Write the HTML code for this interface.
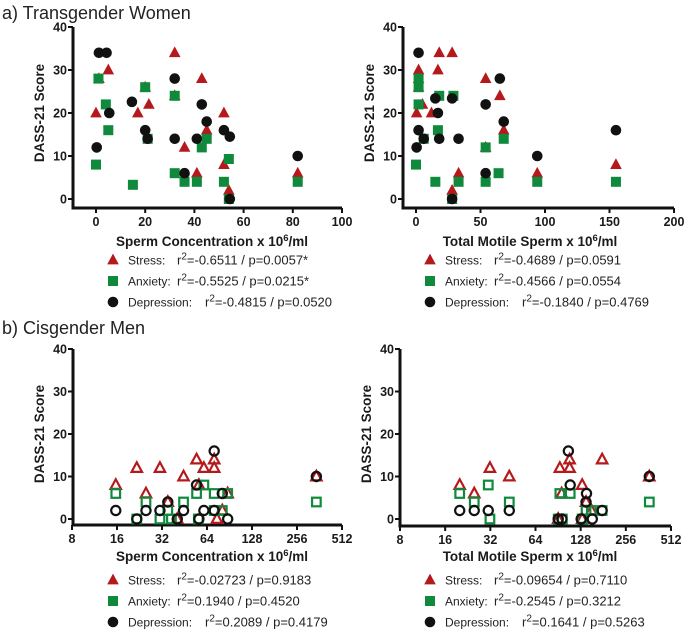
<!DOCTYPE html>
<html><head><meta charset="utf-8"><style>
html,body{margin:0;padding:0;background:#fff;}
svg{display:block;font-family:"Liberation Sans",Arial,sans-serif;}
.tick{font-size:12.5px;font-weight:bold;fill:#1a1a1a;}
.ttl{font-size:13.5px;font-weight:bold;fill:#1a1a1a;}
.leg{font-size:12px;fill:#222;}
.legv{font-size:13px;fill:#222;}
.head{font-size:18px;fill:#222;}
</style></head><body>
<svg id="chart" width="685" height="631" viewBox="0 0 685 631">
<text class="head" x="2" y="19">a) Transgender Women</text>
<text class="head" x="2" y="334">b) Cisgender Men</text>
</svg>
<script>
// Panel A-left: Sperm concentration (Transgender women)
const aL_stressX=[1.2,5,0,32,32,20,21.5,17,43,36,41,45,52,52,54,82];
const aL_stressY=[28,30,20,34,24,26,22,20,28,12,6,16,20,8,2,6];
const aL_anxX=[1,0,4,5,15,20,21,32,32,36,41,43,45,52,54,54,82];
const aL_anxY=[28,8,22,16,3.3,26,14,24,6,4,4,12,14,4,9.3,0,4];
const aL_depX=[1.2,4.3,5.4,0.3,14.6,20,21,32,32,36,41,43,45,52,54.4,54.4,82];
const aL_depY=[34,34,20,12,22.6,16,14,28,14,6,14,22,18,16,14.5,0,10];
// Panel A-right: Total motile sperm
const aR_stressX=[0.5,2,2,2,5,12,17,18,28,33,28,54,54,65,68,94,155];
const aR_stressY=[20,30,28,26,22,20,30,34,34,6,2,28,12,24,16,6,8];
const aR_anxX=[2,2,2,0,6,17,15,18,29,28,33,54,54,64,68,94,155];
const aR_anxY=[28,26,22,8,14,16,4,24,24,0,4,12,4,6,14,4,4];
const aR_depX=[2,2,0.5,6,15,17,18,28,33,28,54,54,65,68,94,155];
const aR_depY=[34,16,12,14,23.4,20,14,23.4,14,0,22,6,28,18,10,16];
// Panel B-left: Sperm concentration (Cisgender men), log2 axis
const bL_stressX=[15.7,21.7,25,31,35,44.6,40.5,54.5,56.5,61,71.5,71.5,74.6,81,88,345];
const bL_stressY=[8,12,6,12,4,10,0,14,8,12,14,12,0,2,6,10];
const bL_anxX=[15.7,21.7,25,31,35,44.6,54.5,61,56,71.5,71.5,81,88,345,37];
const bL_anxY=[6,0,4,0,2,4,6,8,0,6,2,2,6,4,0];
const bL_depX=[15.7,21.7,25,31,35,40.5,44.6,54.5,56.5,61,71.5,71.5,81,88,345];
const bL_depY=[2,0,2,2,4,0,2,8,0,2,16,2,6,0,10];
// Panel B-right: Total motile sperm, log2 axis
const bR_stressX=[20,25,31.8,42.8,93,95.6,108,108,131,139,151,178,90.7,131,367];
const bR_stressY=[8,6,12,10,12,6,14,12,8,4,2,14,0,0,10];
const bR_anxX=[20,25,31,31.8,42.8,93,109,90.7,96.6,131,139,151,178,367];
const bR_anxY=[6,4,8,0,4,6,6,0,0,0,2,2,2,4];
const bR_depX=[20,25,31,42.8,90.7,96,106,109,140,139,129,153,178,367];
const bR_depY=[2,2,2,2,0,0,16,8,6,4,0,0,2,10];
// Ticks & legends
const yTicks=[0,10,20,30,40];
const xTicksA=[0,20,40,60,80,100];
const xTicksATMS=[0,50,100,150,200];
const xTicksLog=[8,16,32,64,128,256,512];
const legA_L=["r\u00b2=-0.6511 / p=0.0057*","r\u00b2=-0.5525 / p=0.0215*","r\u00b2=-0.4815 / p=0.0520"];
const legA_R=["r\u00b2=-0.4689 / p=0.0591","r\u00b2=-0.4566 / p=0.0554","r\u00b2=-0.1840 / p=0.4769"];
const legB_L=["r\u00b2=-0.02723 / p=0.9183","r\u00b2=0.1940 / p=0.4520","r\u00b2=0.2089 / p=0.4179"];
const legB_R=["r\u00b2=-0.09654 / p=0.7110","r\u00b2=-0.2545 / p=0.3212","r\u00b2=0.1641 / p=0.5263"];
const seriesNames=["Stress:","Anxiety:","Depression:"];

const NS="http://www.w3.org/2000/svg";
const svg=document.getElementById('chart');
const RED="#b5191c",GREEN="#0f8a3c",BLACK="#111";
function mk(tag,attrs,parent){const e=document.createElementNS(NS,tag);for(const k in attrs)e.setAttribute(k,attrs[k]);(parent||svg).appendChild(e);return e;}

function marker(g,kind,cx,cy,open){
  let e;
  const col=kind==='stress'?RED:kind==='anxiety'?GREEN:BLACK;
  if(kind==='stress'){
    const s=open?5.2:5.8;
    e=mk('polygon',{points:`${cx},${cy-s*1.1} ${cx-s},${cy+s*0.75} ${cx+s},${cy+s*0.75}`},g);
  }else if(kind==='anxiety'){
    const s=open?4.3:5;
    e=mk('rect',{x:cx-s,y:cy-s,width:2*s,height:2*s},g);
  }else{
    e=mk('circle',{cx:cx,cy:cy,r:open?4.6:5.3},g);
  }
  if(open){e.setAttribute('fill','none');e.setAttribute('stroke',col);e.setAttribute('stroke-width','2.2');}
  else e.setAttribute('fill',col);
  return e;
}

function panel(p){
  const g=mk('g',{});
  
  
  const ys=v=>p.y0-(v/40)*(p.y0-p.y40);
  const xs=p.log?(v=>p.xL+(Math.log2(v)-3)/6*(p.xR-p.xL)):(v=>p.xL+(v-p.xmin)/(p.xmax-p.xmin)*(p.xR-p.xL));
  const ya=mk('line',{x1:p.ax,y1:p.y40,x2:p.ax,y2:p.axY+1.5,stroke:"#111","stroke-width":3},g);
  
  const xa=mk('line',{x1:p.ax-1.5,y1:p.axY,x2:p.xR,y2:p.axY,stroke:"#111","stroke-width":3},g);
  
  yTicks.forEach(t=>{
    const y=ys(t);
    mk('line',{x1:p.ax-5,y1:y,x2:p.ax,y2:y,stroke:"#111","stroke-width":2},g);
    const tx=mk('text',{x:p.ax-6,y:y+4.5,"text-anchor":"end",class:"tick"},g);
    tx.textContent=t;
    
  });
  p.xt.forEach(t=>{
    const x=xs(t);
    mk('line',{x1:x,y1:p.axY,x2:x,y2:p.axY+5,stroke:"#111","stroke-width":2},g);
    const tx=mk('text',{x:x,y:p.axY+18,"text-anchor":"middle",class:"tick"},g);
    tx.textContent=t;
    
  });
  const yt=mk('text',{x:0,y:0,"text-anchor":"middle",class:"ttl",transform:`translate(${p.ax-29},${(p.y40+p.y0)/2}) rotate(-90)`},g);
  yt.textContent="DASS-21 Score";
  
  const xt=mk('text',{x:p.xtc,y:p.axY+p.xtOff,"text-anchor":"middle",class:"ttl"},g);
  xt.innerHTML=p.xtitle+' x 10<tspan dy="-5" font-size="9.5">6</tspan><tspan dy="5">/ml</tspan>';
  
  const sets=[['stress',p.sx,p.sy],['anxiety',p.ax2,p.ay2],['depression',p.dx,p.dy]];
  sets.forEach(([k,X,Y])=>{
    X.forEach((v,i)=>{
      const m=marker(g,k,xs(v),ys(Y[i]),p.open);
      
      
    });
  });
  const kinds=['stress','anxiety','depression'];
  const valOff=[49,49,77];
  kinds.forEach((k,i)=>{
    const ly=p.legY+i*21;
    const lg=mk('g',{},g);
    
    
    marker(lg,k,p.legX,ly,false);
    const t=mk('text',{x:p.legX+15,y:ly+4.5,class:"leg"},lg);
    t.textContent=seriesNames[i];
    const t2=mk('text',{x:p.legX+15+valOff[i],y:ly+4.5,class:"legv"},lg);
    const parts=p.leg[i].split('\u00b2');
    t2.innerHTML=parts[0]+'<tspan dy="-5" font-size="10">2</tspan><tspan dy="5">'+parts[1]+'</tspan>';
  });
}

panel({name:'panel-a-sperm-concentration',ax:73,axY:208,y0:199,y40:27,xL:96,xR:342,xmin:0,xmax:100,xt:xTicksA,log:false,xtOff:38,
  xtitle:'Sperm Concentration',xtc:212,sx:aL_stressX,sy:aL_stressY,ax2:aL_anxX,ay2:aL_anxY,dx:aL_depX,dy:aL_depY,open:false,
  legX:113,legY:260,leg:legA_L});
panel({name:'panel-a-total-motile-sperm',ax:403,axY:208,y0:199,y40:27,xL:416,xR:674,xmin:0,xmax:200,xt:xTicksATMS,log:false,xtOff:38,
  xtitle:'Total Motile Sperm',xtc:530,sx:aR_stressX,sy:aR_stressY,ax2:aR_anxX,ay2:aR_anxY,dx:aR_depX,dy:aR_depY,open:false,
  legX:430,legY:260,leg:legA_R});
panel({name:'panel-b-sperm-concentration',ax:73,axY:525,y0:519,y40:349,xL:72,xR:342,xt:xTicksLog,log:true,xtOff:36,
  xtitle:'Sperm Concentration',xtc:212,sx:bL_stressX,sy:bL_stressY,ax2:bL_anxX,ay2:bL_anxY,dx:bL_depX,dy:bL_depY,open:true,
  legX:113,legY:580,leg:legB_L});
panel({name:'panel-b-total-motile-sperm',ax:400,axY:526,y0:519,y40:349,xL:400,xR:671,xt:xTicksLog,log:true,xtOff:35,
  xtitle:'Total Motile Sperm',xtc:530,sx:bR_stressX,sy:bR_stressY,ax2:bR_anxX,ay2:bR_anxY,dx:bR_depX,dy:bR_depY,open:true,
  legX:430,legY:580,leg:legB_R});
</script>
</body></html>
